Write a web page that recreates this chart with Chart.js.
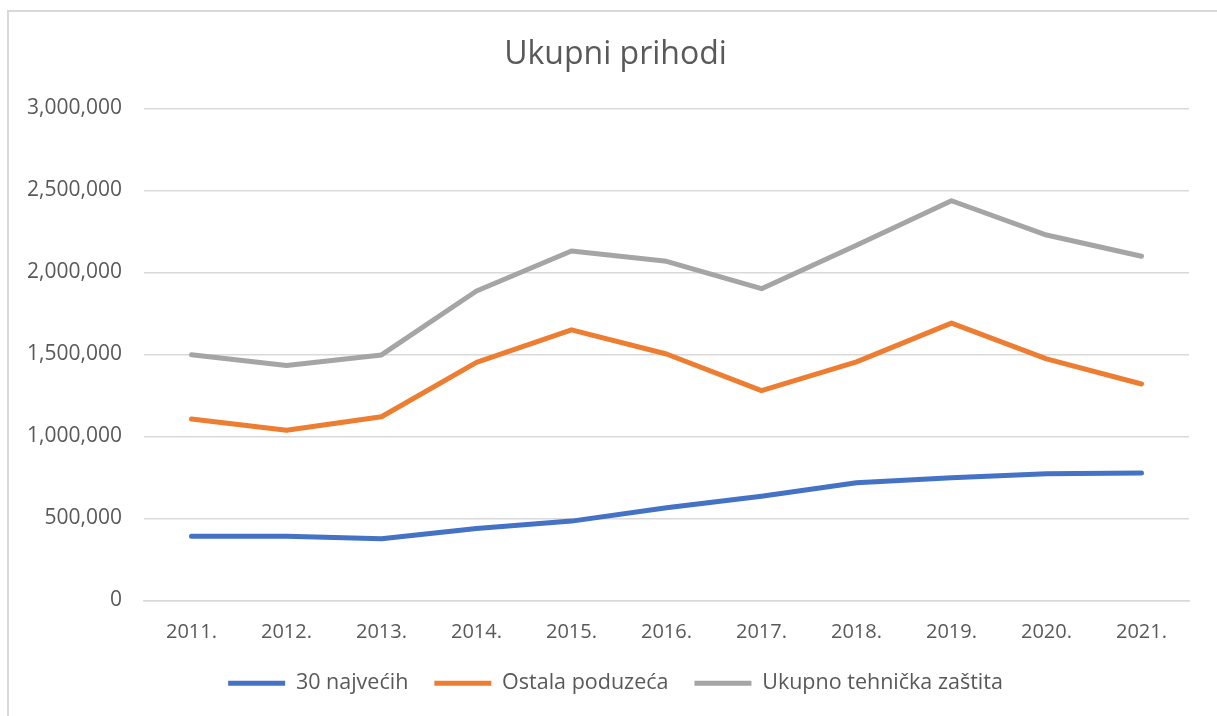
<!DOCTYPE html>
<html>
<head>
<meta charset="utf-8">
<script src="https://cdn.jsdelivr.net/npm/chart.js@4/dist/chart.umd.min.js"></script>
<style>
  html, body { margin: 0; padding: 0; background: #fff; }
  #wrap { position: relative; width: 1217px; height: 716px; overflow: hidden; }
  #frame { position: absolute; left: 7px; top: 10px; width: 1300px; height: 800px; border-left: 2px solid #d9d9d9; border-top: 2px solid #d9d9d9; box-sizing: border-box; }
  canvas { position: absolute; left: 0; top: 0; }
</style>
</head>
<body>
<div id="wrap">
  <div id="frame"></div>
  <canvas id="c" width="1217" height="716"></canvas>
</div>
<script>
const categories = ['2011.', '2012.', '2013.', '2014.', '2015.', '2016.', '2017.', '2018.', '2019.', '2020.', '2021.'];
const najvecih30 = [392000, 392000, 377000, 439000, 484000, 565000, 636000, 718000, 749000, 773000, 777000];
const ostalaPoduzeca = [1106000, 1038000, 1120000, 1452000, 1650000, 1503000, 1279000, 1455000, 1691000, 1473000, 1320000];
const ukupnoTehnicka = [1498000, 1432000, 1497000, 1887000, 2131000, 2068000, 1901000, 2166000, 2437000, 2228000, 2099000];
const seriesNames = ['30 najvećih', 'Ostala poduzeća', 'Ukupno tehnička zaštita'];
const seriesColors = ['#4472C4', '#ED7D31', '#A5A5A5'];
const yTicks = [0, 500000, 1000000, 1500000, 2000000, 2500000, 3000000];

const FONT = '"Open Sans", "Noto Sans", sans-serif';
const TXT = '#595959';

const datasets = [najvecih30, ostalaPoduzeca, ukupnoTehnicka].map((d, i) => ({
  label: seriesNames[i],
  data: d,
  borderColor: seriesColors[i],
  backgroundColor: seriesColors[i],
  borderWidth: 5,
  pointRadius: 0,
  pointHoverRadius: 0,
  tension: 0,
  borderCapStyle: 'round',
  borderJoinStyle: 'round',
  fill: false
}));

new Chart(document.getElementById('c'), {
  type: 'line',
  data: { labels: categories, datasets },
  options: {
    responsive: false,
    animation: false,
    layout: { padding: { left: 14, right: 0, top: 22, bottom: 12 } },
    plugins: {
      title: {
        display: true,
        text: 'Ukupni prihodi',
        color: TXT,
        font: { family: FONT, size: 32, weight: 'normal' },
        padding: { top: 14, bottom: 34 }
      },
      legend: {
        position: 'bottom',
        labels: {
          color: TXT,
          font: { family: FONT, size: 21.5 },
          boxWidth: 57,
          boxHeight: 5,
          padding: 26,
          generateLabels: (chart) => chart.data.datasets.map((ds, i) => ({
            text: ds.label,
            fillStyle: ds.borderColor,
            strokeStyle: ds.borderColor,
            lineWidth: 0,
            fontColor: TXT,
            datasetIndex: i,
            hidden: false
          }))
        }
      },
      tooltip: { enabled: false }
    },
    scales: {
      x: {
        offset: true,
        afterFit: (s) => { s.height = 46; },
        grid: { display: false, drawTicks: false },
        border: { display: true, color: '#d9d9d9', width: 1.5 },
        ticks: { color: TXT, font: { family: FONT, size: 20 }, padding: 20, maxRotation: 0 }
      },
      y: {
        min: 0,
        max: 3000000,
        afterBuildTicks: (s) => { s.ticks = yTicks.map(v => ({ value: v })); },
        afterFit: (s) => { s.width = 130; },
        grid: { color: '#d9d9d9', lineWidth: 1.5, drawTicks: false },
        border: { display: false },
        ticks: {
          color: TXT,
          font: { family: FONT, size: 21 },
          padding: 22,
          callback: (v) => Number(v).toLocaleString('en-US')
        }
      },
      yRight: {
        position: 'right',
        display: true,
        afterFit: (s) => { s.width = 28; },
        grid: { display: false, drawTicks: false },
        border: { display: false },
        ticks: { display: false }
      }
    }
  }
});
</script>
</body>
</html>
